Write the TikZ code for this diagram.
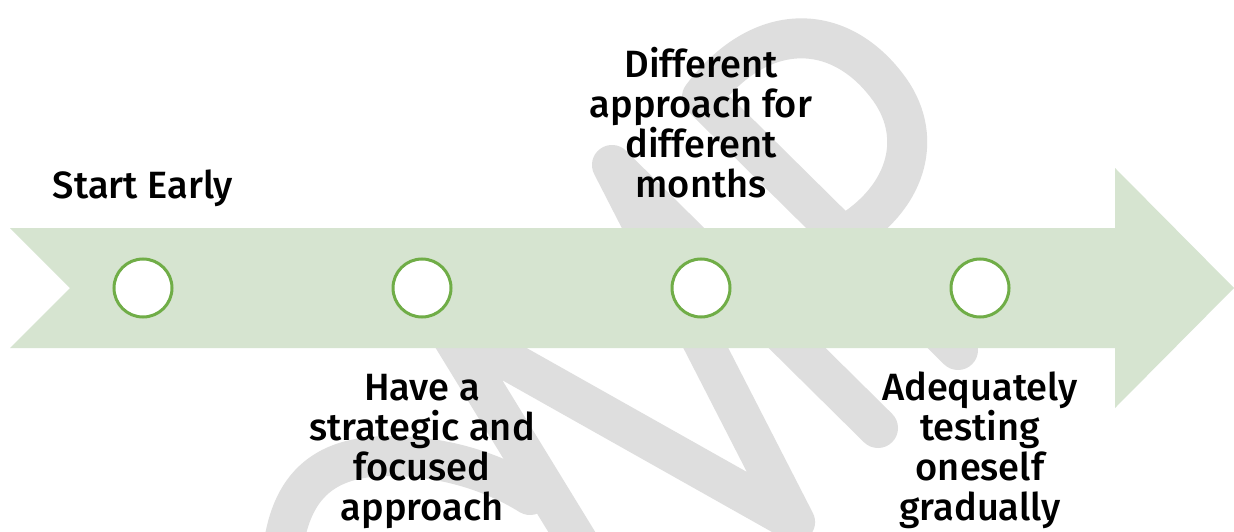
\documentclass[tikz,border=0pt]{standalone}
\usepackage{fontspec}
\setmainfont{Fira Sans}[UprightFont=* Medium]
\definecolor{wmgray}{HTML}{DEDEDE}
\definecolor{arrowfill}{HTML}{D6E4D0}
\definecolor{dotgreen}{HTML}{70AD47}
\begin{document}
\begin{tikzpicture}[x=1pt,y=-1pt,
  wm/.style={line width=40pt, draw=wmgray, line cap=round, line join=round},
  lbl/.style={align=center, font=\fontsize{38}{40}\selectfont, inner sep=0pt, anchor=base},
  dot/.style={circle, draw=dotgreen, line width=3pt, fill=white, minimum size=58pt, inner sep=0pt}]
\useasboundingbox (0,0) rectangle (1234,532);
\fill[white] (0,0) rectangle (1234,532);
% watermark
\begin{scope}
\clip (0,0) rectangle (1234,532);
\draw[wm] (282,560) .. controls (288,480) and (330,456) .. (390,456) .. controls (440,456) and (490,470) .. (530,495);
\draw[wm] (592,565) -- (445,325) -- (795,522) -- (612,165) -- (878,428);
\draw[wm] (958,350) -- (702,97) .. controls (760,20) and (840,20) .. (890,90) .. controls (925,140) and (905,200) .. (845,235);
\end{scope}
% arrow
\fill[arrowfill] (10,228) -- (1115,228) -- (1115,168) -- (1234,288) -- (1115,408) -- (1115,348) -- (10,348) -- (70,288) -- cycle;
% circles
\node[dot] (c1) at (143,288) {};
\node[dot] (c2) at (422,288) {};
\node[dot] (c3) at (701,288) {};
\node[dot] (c4) at (980,288) {};
% labels (anchor = baseline of last line)
\node[lbl] (t1) at (143,198) {Start Early};
\node[lbl] (t2) at (422,520) {Have a\\strategic and\\focused\\approach};
\node[lbl] (t3) at (701,197) {Different\\approach for\\different\\months};
\node[lbl] (t4) at (980,520) {Adequately\\testing\\oneself\\gradually};
\end{tikzpicture}
\end{document}
